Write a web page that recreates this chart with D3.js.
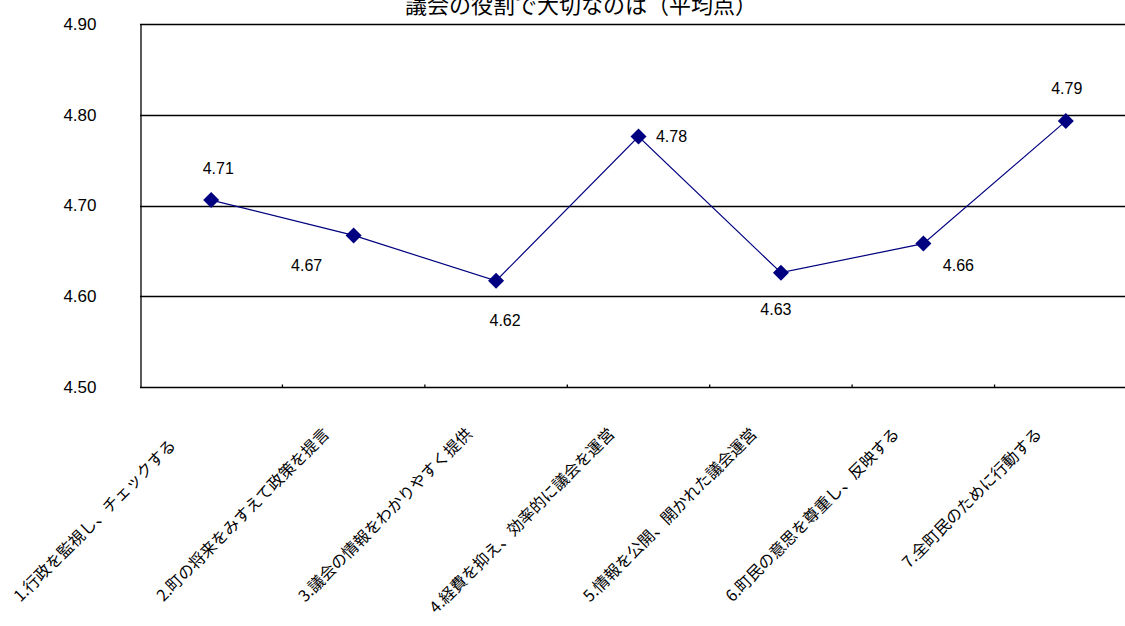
<!DOCTYPE html>
<html>
<head>
<meta charset="utf-8">
<script src="https://cdn.jsdelivr.net/npm/d3@7"></script>
<style>
  html, body { margin: 0; padding: 0; background: #fff; overflow: hidden; }
  svg { display: block; }
  .num { font-family: "Liberation Sans", Arial, sans-serif; fill: #000; }
  .jp { font-family: "Noto Sans CJK JP", sans-serif; fill: #000; }
</style>
</head>
<body>
<svg id="chart" width="1125" height="626"></svg>
<script>
// Survey items (average score per item)
const categories = [
  "1.行政を監視し、チェックする\u3000",
  "2.町の将来をみすえて政策を提言",
  "3.議会の情報をわかりやすく提供",
  "4.経費を抑え、効率的に議会を運営",
  "5.情報を公開、開かれた議会運営",
  "6.町民の意思を尊重し、反映する",
  "7.全町民のために行動する"
];
const averages = [4.706, 4.667, 4.617, 4.776, 4.626, 4.658, 4.793];
const yTicks = [4.50, 4.60, 4.70, 4.80, 4.90];
const title = "議会の役割で大切なのは（平均点）";

// Where each value label sits relative to its marker
const labelOffsets = [[7, -32], [-47, 30], [9, 40], [33, 0], [-5, 37], [35, 22], [1, -33]];

const svg = d3.select("#chart");
const plot = { left: 140, top: 24, width: 997, bottom: 387 };

const x = d3.scaleBand()
  .domain(categories)
  .range([plot.left, plot.left + plot.width])
  .padding(0);

const y = d3.scaleLinear()
  .domain([4.5, 4.9])
  .range([plot.bottom, plot.top]);

// Title
svg.append("text")
  .attr("class", "jp")
  .attr("x", 581)
  .attr("y", 13)
  .attr("text-anchor", "middle")
  .attr("font-size", 22)
  .text(title);

// Horizontal gridlines
svg.append("g")
  .selectAll("line")
  .data(yTicks.slice(1))
  .join("line")
  .attr("x1", plot.left)
  .attr("x2", plot.left + plot.width)
  .attr("y1", d => Math.round(y(d)) + 0.5)
  .attr("y2", d => Math.round(y(d)) + 0.5)
  .attr("stroke", "#000")
  .attr("stroke-width", 1.3);

// Y axis
const yAxis = svg.append("g")
  .attr("transform", `translate(${plot.left + 0.5},0)`)
  .call(d3.axisLeft(y).tickValues(yTicks).tickFormat(d3.format(".2f")).tickSize(0).tickPadding(44));
yAxis.select(".domain").attr("stroke", "#000").attr("stroke-width", 1.3);
yAxis.selectAll("text")
  .attr("class", "num")
  .attr("font-size", 17)
  .attr("fill", "#000");

// X axis with inward ticks at category boundaries
const boundaries = categories.slice(1).map(c => x(c));
const xAxisG = svg.append("g")
  .attr("transform", `translate(0,${Math.round(plot.bottom) + 0.5})`);
xAxisG.append("line")
  .attr("x1", plot.left)
  .attr("x2", plot.left + plot.width)
  .attr("stroke", "#000")
  .attr("stroke-width", 1.3);
xAxisG.selectAll("line.tick")
  .data(boundaries)
  .join("line")
  .attr("class", "tick")
  .attr("x1", d => d)
  .attr("x2", d => d)
  .attr("y1", 0)
  .attr("y2", -3)
  .attr("stroke", "#000")
  .attr("stroke-width", 1.3);

// Rotated category labels
svg.append("g")
  .selectAll("text")
  .data(categories)
  .join("text")
  .attr("class", "jp")
  .attr("font-size", 16)
  .attr("text-anchor", "end")
  .attr("transform", d => `translate(${x(d) + x.bandwidth() / 2 - 23},${435}) rotate(-45)`)
  .text(d => d);

// Series line
const cx = (d, i) => x(categories[i]) + x.bandwidth() / 2;
const line = d3.line()
  .x((d, i) => cx(d, i))
  .y(d => y(d));

svg.append("path")
  .datum(averages)
  .attr("d", line)
  .attr("fill", "none")
  .attr("stroke", "#000080")
  .attr("stroke-width", 1.2);

// Diamond markers
const r = 8;
svg.append("g")
  .selectAll("path")
  .data(averages)
  .join("path")
  .attr("d", (d, i) => {
    const px = cx(d, i), py = y(d);
    return `M${px},${py - r}L${px + r},${py}L${px},${py + r}L${px - r},${py}Z`;
  })
  .attr("fill", "#000080");

// Value labels
const fmt = d3.format(".2f");
svg.append("g")
  .selectAll("text")
  .data(averages)
  .join("text")
  .attr("class", "num")
  .attr("font-size", 16)
  .attr("text-anchor", "middle")
  .attr("dominant-baseline", "central")
  .attr("x", (d, i) => cx(d, i) + labelOffsets[i][0])
  .attr("y", (d, i) => y(d) + labelOffsets[i][1])
  .text(d => fmt(d));
</script>
</body>
</html>
